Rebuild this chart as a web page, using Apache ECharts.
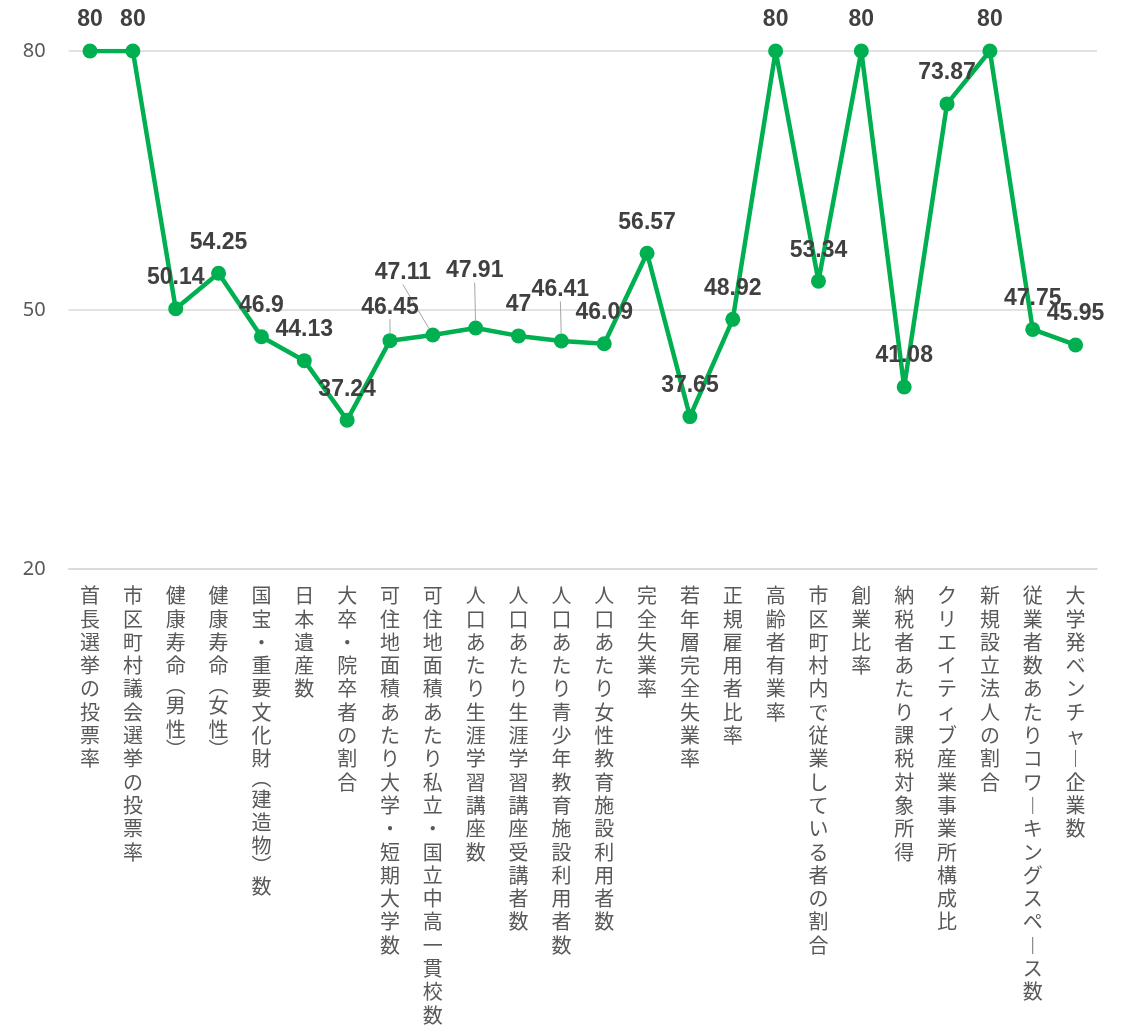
<!DOCTYPE html>
<html>
<head>
<meta charset="utf-8">
<script src="https://cdn.jsdelivr.net/npm/echarts@6/dist/echarts.min.js"></script>
<style>html,body{margin:0;padding:0;background:#fff;}#c{width:1127px;height:1027px;}</style>
</head>
<body>
<div id="c"></div>
<script>
const categories = [
  "首長選挙の投票率","市区町村議会選挙の投票率","健康寿命(男性)","健康寿命(女性)",
  "国宝・重要文化財(建造物)数","日本遺産数","大卒・院卒者の割合","可住地面積あたり大学・短期大学数",
  "可住地面積あたり私立・国立中高一貫校数","人口あたり生涯学習講座数","人口あたり生涯学習講座受講者数",
  "人口あたり青少年教育施設利用者数","人口あたり女性教育施設利用者数","完全失業率","若年層完全失業率",
  "正規雇用者比率","高齢者有業率","市区町村内で従業している者の割合","創業比率","納税者あたり課税対象所得",
  "クリエイティブ産業事業所構成比","新規設立法人の割合","従業者数あたりコワーキングスペース数","大学発ベンチャー企業数"
];
const values = [80,80,50.14,54.25,46.9,44.13,37.24,46.45,47.11,47.91,47,46.41,46.09,56.57,37.65,48.92,80,53.34,80,41.08,73.87,80,47.75,45.95];
const yTicks = [20,50,80];
// labels pulled away from their points with a leader line: [index, dx, dy]
const movedLabels = [[7,0,-2],[8,-30,-31],[9,-1,-26],[11,-1,-20]];

const moved = {};
movedLabels.forEach(m => moved[m[0]] = m);

const vert = s => s.split('').map(ch => {
  if (ch === '(') return '{p|︵}';
  if (ch === ')') return '{p|︶}';
  if (ch === 'ー') return '{n|︱}';
  return '{n|' + ch + '}';
}).join('\n');

const lblFont = '"Noto Sans CJK JP", sans-serif';
const chart = echarts.init(document.getElementById('c'), null, {renderer:'canvas'});
chart.setOption({
  animation:false,
  grid:{left:68.6, right:30, top:51, bottom:458},
  xAxis:{
    type:'category', data:categories, boundaryGap:true,
    axisLine:{show:true, lineStyle:{color:'#d9d9d9', width:1.5}},
    axisTick:{show:false},
    axisLabel:{
      interval:0, margin:15, color:'#595959', fontSize:20, lineHeight:23.3,
      fontFamily:lblFont, verticalAlign:'top',
      formatter: v => vert(v),
      rich:{
        n:{fontSize:20, lineHeight:23.3, fontFamily:lblFont, color:'#595959'},
        p:{fontSize:20, lineHeight:17, fontFamily:lblFont, color:'#595959'}
      }
    }
  },
  yAxis:{
    type:'value', min:yTicks[0], max:yTicks[yTicks.length-1], interval:yTicks[1]-yTicks[0],
    axisLine:{show:false}, axisTick:{show:false},
    axisLabel:{color:'#595959', fontSize:20, fontFamily:'"Noto Sans", sans-serif', margin:23},
    splitLine:{lineStyle:{color:'#d9d9d9', width:1.5}}
  },
  series:[{
    type:'line',
    data: values.map((v,i) => moved[i] ? {value:v, labelLine:{show:true}} : v),
    symbol:'circle', symbolSize:15,
    itemStyle:{color:'#00b050'},
    lineStyle:{color:'#00b050', width:4.5},
    label:{
      show:true, position:'top', distance:12,
      color:'#404040', fontSize:23, fontWeight:'bold',
      fontFamily:'"Liberation Sans", Arial, sans-serif'
    },
    labelLine:{show:false, lineStyle:{color:'#a6a6a6', width:1}},
    labelLayout: p => {
      const m = moved[p.dataIndex];
      return m ? {dx:m[1], dy:m[2]} : {};
    }
  }]
});
</script>
</body>
</html>
